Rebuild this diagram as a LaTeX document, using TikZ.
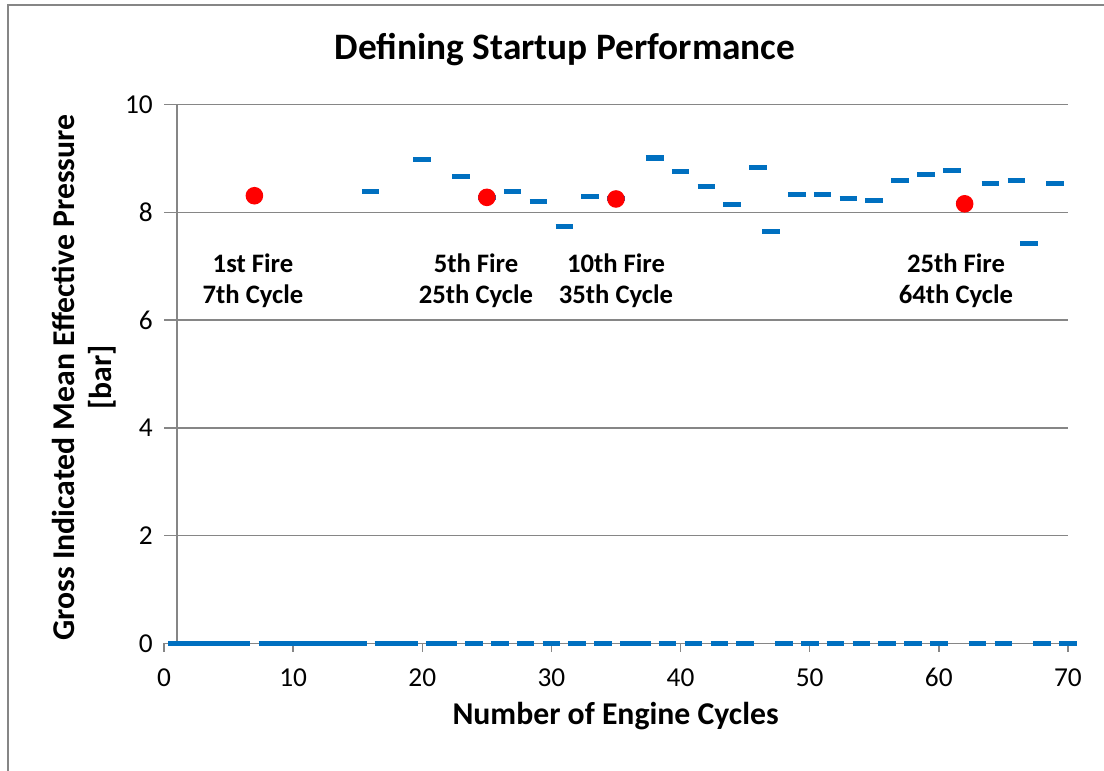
\documentclass[tikz,border=0pt]{standalone}
\usepackage{fontspec}
\setmainfont{Carlito}
\definecolor{gridgray}{HTML}{868686}
\definecolor{dashblue}{HTML}{0070C0}
\definecolor{dotred}{HTML}{FF0000}
\tikzset{
  grid line/.style={draw=gridgray, line width=1.1pt},
  frame line/.style={draw=gridgray, line width=1.5pt},
  dashmark/.style={draw=dashblue, line width=3.8pt},
  firedot/.style={fill=dotred},
  ticklabel/.style={font=\fontsize{20.5}{24}\selectfont, inner sep=0pt},
  annot/.style={font=\fontsize{20}{24}\selectfont\bfseries, align=center, inner sep=0pt},
  axistitle/.style={font=\fontsize{23.8}{28}\selectfont\bfseries, inner sep=0pt},
}
\begin{document}
\begin{tikzpicture}[x=0.75pt,y=-0.75pt]
\useasboundingbox (0,0) rectangle (1104,771);
% chart frame (top and left edges visible)
\draw[frame line] (8,771) -- (8,5) -- (1104,5);
% title
\node[font=\fontsize{28}{32}\selectfont\bfseries, anchor=base, inner sep=0pt] (title) at (565,59) {Defining Startup Performance};
% gridlines
\foreach \v in {2,4,6,8,10} {
  \draw[grid line] (164,{643.3-53.86*\v}) -- (1068,{643.3-53.86*\v});
  \node[ticklabel, anchor=east] (yl\v) at (153,{643.3-53.86*\v}) {\v};
}
\node[ticklabel, anchor=east] (yl0) at (153,643.3) {0};
% axes
\draw[grid line] (164,643.3) -- (1068,643.3);
\draw[grid line] (177,104.7) -- (177,643.3);
\foreach \c in {0,10,...,70} {
  \draw[grid line] ({164+12.914*\c},643.3) -- ({164+12.914*\c},651.5);
  \node[ticklabel, anchor=base] (xl\c) at ({164+12.914*\c},686.5) {\c};
}
% data
\begin{scope}[shift={(164,643.3)}, x=9.6855pt, y=40.395pt]
  \foreach \c in {1,2,3,4,5,6,8,9,10,11,12,13,14,15,17,18,19,21,22,24,26,28,30,32,34,36,37,39,41,43,45,48,50,52,54,56,58,60,63,65,68,70} {
    \draw[dashmark] ([xshift=-6.6pt]\c,0) -- ([xshift=6.6pt]\c,0);
  }
  \foreach \c/\v in {7/8.31,16/8.39,20/8.98,23/8.67,25/8.28,27/8.39,29/8.20,31/7.73,33/8.29,35/8.25,38/9.01,40/8.76,42/8.48,44/8.15,46/8.84,47/7.65,49/8.34,51/8.33,53/8.25,55/8.23,57/8.60,59/8.71,61/8.78,62/8.16,64/8.54,66/8.59,67/7.42,69/8.53} {
    \draw[dashmark] ([xshift=-6.6pt]\c,\v) -- ([xshift=6.6pt]\c,\v);
  }
  \foreach \c/\v in {7/8.31,25/8.28,35/8.25,62/8.16} {
    \fill[firedot] (\c,\v) circle[radius=6.6pt];
  }
\end{scope}
% annotations
\node[annot, anchor=base] (a1) at (253,272.7) {1st Fire};
\node[annot, anchor=base] (a1b) at (253,303.3) {7th Cycle};
\node[annot, anchor=base] (a2) at (476,272.7) {5th Fire};
\node[annot, anchor=base] (a2b) at (476,303.3) {25th Cycle};
\node[annot, anchor=base] (a3) at (616,272.7) {10th Fire};
\node[annot, anchor=base] (a3b) at (616,303.3) {35th Cycle};
\node[annot, anchor=base] (a4) at (956,272.7) {25th Fire};
\node[annot, anchor=base] (a4b) at (956,303.3) {64th Cycle};
% axis titles
\node[axistitle, anchor=base] (xtitle) at (615.6,724) {Number of Engine Cycles};
\node[axistitle, rotate=90] (ytitle) at (63,377.5) {Gross Indicated Mean Effective Pressure};
\node[axistitle, rotate=90] (ytitle2) at (102,377.5) {[bar]};
\end{tikzpicture}
\end{document}
